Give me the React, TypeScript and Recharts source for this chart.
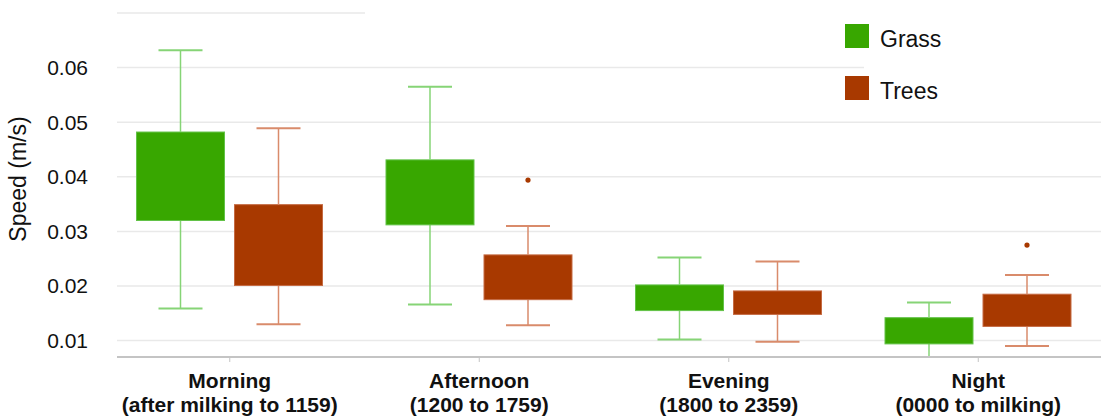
import React from "react";
import { ComposedChart, Bar, XAxis, YAxis, CartesianGrid, Legend } from "recharts";

const periods = ["Morning", "Afternoon", "Evening", "Night"];
const periodRanges = [
  "(after milking to 1159)",
  "(1200 to 1759)",
  "(1800 to 2359)",
  "(0000 to milking)",
];

// box plot stats
const grassMin = [0.0159, 0.0166, 0.0102, 0.007];
const grassQ1 = [0.032, 0.0312, 0.0155, 0.0094];
const grassQ3 = [0.0482, 0.0431, 0.0202, 0.0142];
const grassMax = [0.0632, 0.0565, 0.0252, 0.017];
const grassOutlier: (number | null)[] = [null, null, null, null];

const treesMin = [0.013, 0.0128, 0.0098, 0.009];
const treesQ1 = [0.0201, 0.0175, 0.0148, 0.0126];
const treesQ3 = [0.0349, 0.0257, 0.0191, 0.0185];
const treesMax = [0.0489, 0.031, 0.0245, 0.022];
const treesOutlier: (number | null)[] = [null, 0.0394, null, 0.0275];

const yTicks = [0.01, 0.02, 0.03, 0.04, 0.05, 0.06];

const series = [
  { key: "grass", name: "Grass", fill: "#38a700", edge: "#62c247", whisker: "#86d476" },
  { key: "trees", name: "Trees", fill: "#a83900", edge: "#c56a42", whisker: "#d98b6b" },
];

const stats: Record<string, { min: number[]; q1: number[]; q3: number[]; max: number[]; out: (number | null)[] }> = {
  grass: { min: grassMin, q1: grassQ1, q3: grassQ3, max: grassMax, out: grassOutlier },
  trees: { min: treesMin, q1: treesQ1, q3: treesQ3, max: treesMax, out: treesOutlier },
};

// stacked segments: base -> lower whisker -> box -> upper whisker -> gap to outlier
const data = periods.map((period, i) => {
  const row: Record<string, number | string> = { period };
  series.forEach(({ key }) => {
    const s = stats[key];
    const out = s.out[i];
    row[key + "Base"] = s.min[i];
    row[key + "Low"] = s.q1[i] - s.min[i];
    row[key + "Box"] = s.q3[i] - s.q1[i];
    row[key + "High"] = s.max[i] - s.q3[i];
    row[key + "Gap"] = out != null ? out - s.max[i] : 0;
  });
  return row;
});

const font = "'Liberation Sans', Arial, sans-serif";

const makeWhisker = (color: string, side: "low" | "high") => (props: any) => {
  const { x, y, width, height } = props;
  const cx = x + width / 2;
  const capY = side === "low" ? y + height : y;
  return (
    <g>
      <line x1={cx} x2={cx} y1={y} y2={y + height} stroke={color} strokeWidth={1.5} />
      <line x1={cx - 22} x2={cx + 22} y1={capY} y2={capY} stroke={color} strokeWidth={2} />
    </g>
  );
};

const makeBox = (fill: string, edge: string) => (props: any) => {
  const { x, y, width, height } = props;
  return <rect x={x + 0.5} y={y} width={width - 1} height={height} fill={fill} stroke={edge} strokeWidth={1} />;
};

const makeOutlier = (color: string, key: string) => (props: any) => {
  const { x, y, width, payload } = props;
  if (!payload || !(payload[key + "Gap"] > 0)) return <g />;
  return <circle cx={x + width / 2} cy={y} r={2.6} fill={color} />;
};

const Empty = () => <g />;

const PeriodTick = (props: any) => {
  const { x, y, payload } = props;
  const idx = periods.indexOf(payload.value);
  return (
    <g fontFamily={font} fontWeight="bold" fontSize={21} fill="#111">
      <text x={x} y={y + 26} textAnchor="middle">
        {payload.value}
      </text>
      <text x={x} y={y + 50} textAnchor="middle">
        {periodRanges[idx]}
      </text>
    </g>
  );
};

const YLabel = () => (
  <text transform="translate(26,179) rotate(-90)" textAnchor="middle" fontFamily={font} fontSize={23} fill="#111">
    Speed (m/s)
  </text>
);

// legend sits on a white panel; a thin white strip also hides the top border right of the first group
const LegendBox = () => (
  <div style={{ position: "relative", width: 740, height: 112, fontFamily: font }}>
    <div style={{ position: "absolute", left: 0, top: 0, width: 740, height: 20, background: "#fff" }} />
    <div style={{ position: "absolute", left: 499, top: 0, width: 241, height: 110, background: "#fff" }} />
    {series.map((s, i) => (
      <div key={s.key} style={{ position: "absolute", left: 480, top: 24 + i * 52, height: 24, display: "flex", alignItems: "flex-end" }}>
        <div style={{ width: 24, height: 24, background: s.fill }} />
        <span style={{ marginLeft: 11, fontSize: 23, color: "#111", lineHeight: "24px", position: "relative", top: 3 }}>{s.name}</span>
      </div>
    ))}
  </div>
);

export default function App() {
  return (
    <div style={{ position: "absolute", left: 0, top: 0, background: "#fff" }}>
      <ComposedChart
        width={1105}
        height={417}
        data={data}
        margin={{ top: 13, right: 4, bottom: 0, left: 0 }}
        barSize={89}
        barGap={9}
      >
        <CartesianGrid vertical={false} stroke="#e9e9e9" strokeWidth={1.5} />
        <XAxis
          dataKey="period"
          height={60}
          padding={{ left: -12, right: -2 }}
          axisLine={{ stroke: "#c4c4c4", strokeWidth: 2 }}
          tickLine={{ stroke: "#c4c4c4" }}
          tickSize={5}
          tickMargin={0}
          tick={<PeriodTick />}
          interval={0}
        />
        <YAxis
          width={117}
          domain={[0.007, 0.07]}
          ticks={yTicks}
          allowDataOverflow
          axisLine={false}
          tickLine={false}
          tickMargin={23}
          tickFormatter={(v: number) => v.toFixed(2)}
          tick={{ fontFamily: font, fontSize: 21, fill: "#111" }}
          label={<YLabel />}
        />
        <Legend
          layout="vertical"
          align="center"
          verticalAlign="middle"
          content={() => <LegendBox />}
          wrapperStyle={{ position: "absolute", left: 365, top: 0, width: 740, height: 112 }}
        />
        {series.map((s) => [
          <Bar key={s.key + "Base"} dataKey={s.key + "Base"} stackId={s.key} shape={<Empty />} isAnimationActive={false} legendType="none" />,
          <Bar key={s.key + "Low"} dataKey={s.key + "Low"} stackId={s.key} shape={makeWhisker(s.whisker, "low")} isAnimationActive={false} legendType="none" />,
          <Bar key={s.key + "Box"} dataKey={s.key + "Box"} stackId={s.key} shape={makeBox(s.fill, s.edge)} isAnimationActive={false} name={s.name} />,
          <Bar key={s.key + "High"} dataKey={s.key + "High"} stackId={s.key} shape={makeWhisker(s.whisker, "high")} isAnimationActive={false} legendType="none" />,
          <Bar key={s.key + "Gap"} dataKey={s.key + "Gap"} stackId={s.key} shape={makeOutlier(s.fill, s.key)} isAnimationActive={false} legendType="none" />,
        ])}
      </ComposedChart>
    </div>
  );
}
